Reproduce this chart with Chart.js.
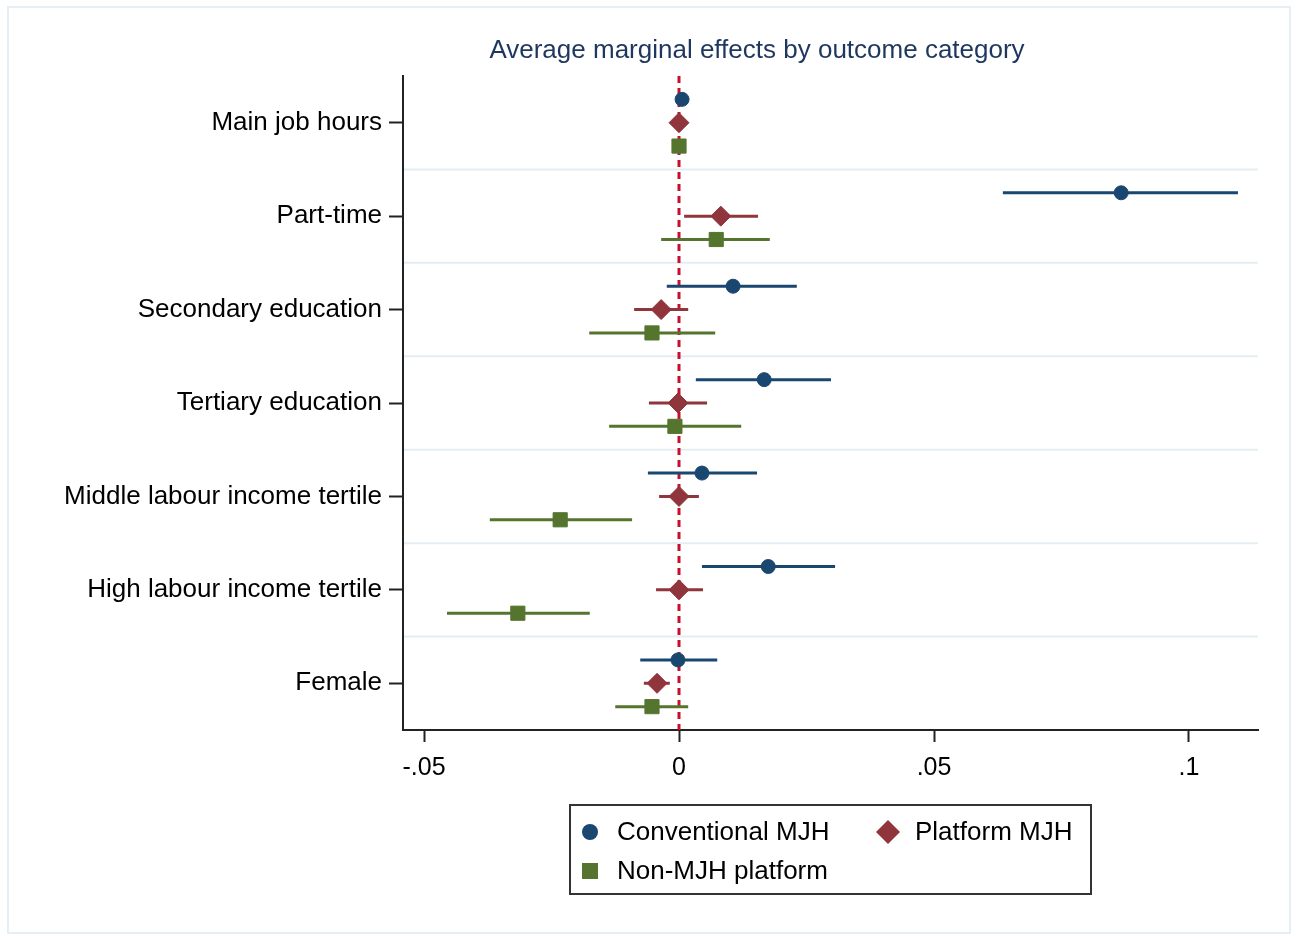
<!DOCTYPE html>
<html>
<head>
<meta charset="utf-8">
<script src="https://cdn.jsdelivr.net/npm/chart.js@4.4.1/dist/chart.umd.min.js"></script>
<style>
  body { margin: 0; background: #fff; font-family: 'Liberation Sans', Arial, sans-serif; }
  #wrap { position: relative; width: 1292px; height: 936px; }
  #frame { position: absolute; left: 7px; top: 6px; width: 1280px; height: 924px; border: 2px solid #e6eff3; pointer-events: none; }
  #title { position: absolute; left: 457px; top: 34px; width: 600px; text-align: center; font-size: 26px; line-height: 30px; color: #1e375f; white-space: nowrap; }
  #legend { position: absolute; left: 569px; top: 804px; width: 519px; height: 87px; border: 2px solid #333; background: #fff; }
  .item { position: absolute; display: flex; align-items: center; font-size: 26px; color: #000; white-space: nowrap; }
  .mk { width: 24px; height: 24px; margin-right: 15px; }
</style>
</head>
<body>
<div id="wrap">
  <canvas id="chart" width="1292" height="936"></canvas>
  <div id="frame"></div>
  <div id="title">Average marginal effects by outcome category</div>
  <div id="legend"></div>
</div>
<script>
// outcome categories, top to bottom
const categories = ['Main job hours', 'Part-time', 'Secondary education', 'Tertiary education',
  'Middle labour income tertile', 'High labour income tertile', 'Female'];

// x axis ticks
const xTicks = [-0.05, 0, 0.05, 0.1];
const xTickLabels = ['-.05', '0', '.05', '.1'];

// Conventional MJH: estimate, lower and upper 95% CI
const convEst = [0.0006, 0.0867, 0.0106, 0.0167, 0.0045, 0.0175, -0.0002];
const convLo = [0.0004, 0.0635, -0.0024, 0.0033, -0.0061, 0.0045, -0.0076];
const convHi = [0.0008, 0.1096, 0.0231, 0.0298, 0.0153, 0.0306, 0.0075];

// Platform MJH
const platEst = [0.0000, 0.0082, -0.0035, -0.0002, 0.0000, 0.0000, -0.0043];
const platLo = [-0.0002, 0.0010, -0.0088, -0.0059, -0.0039, -0.0045, -0.0069];
const platHi = [0.0002, 0.0155, 0.0018, 0.0055, 0.0039, 0.0047, -0.0018];

// Non-MJH platform
const nonEst = [0.0000, 0.0073, -0.0053, -0.0008, -0.0233, -0.0316, -0.0053];
const nonLo = [-0.0002, -0.0035, -0.0176, -0.0137, -0.0371, -0.0455, -0.0125];
const nonHi = [0.0002, 0.0178, 0.0071, 0.0122, -0.0092, -0.0175, 0.0018];

const series = [
  { name: 'Conventional MJH', est: convEst, lo: convLo, hi: convHi, color: '#1a476f', style: 'circle', radius: 7, shift: -0.25 },
  { name: 'Platform MJH', est: platEst, lo: platLo, hi: platHi, color: '#90353b', style: 'rectRot', radius: 10, shift: 0 },
  { name: 'Non-MJH platform', est: nonEst, lo: nonLo, hi: nonHi, color: '#55752f', style: 'rect', radius: 10, shift: 0.25 }
];

// build datasets: a CI line (with gaps) and a marker set per series
const datasets = [];
series.forEach(s => {
  const ci = [];
  s.est.forEach((v, i) => {
    ci.push({ x: s.lo[i], y: i + s.shift });
    ci.push({ x: s.hi[i], y: i + s.shift });
    ci.push({ x: null, y: null });
  });
  datasets.push({
    label: s.name + ' CI',
    data: ci,
    showLine: true,
    spanGaps: false,
    borderColor: s.color,
    borderWidth: 3,
    pointRadius: 0,
    order: 2
  });
  datasets.push({
    label: s.name,
    data: s.est.map((v, i) => ({ x: v, y: i + s.shift })),
    pointStyle: s.style,
    pointRadius: s.radius,
    pointBackgroundColor: s.color,
    pointBorderColor: s.color,
    pointBorderWidth: 1,
    order: 1
  });
});

// separators between categories and the dashed zero line
const refLines = {
  id: 'refLines',
  beforeDatasetsDraw(chart) {
    const { ctx, chartArea, scales } = chart;
    ctx.save();
    ctx.strokeStyle = '#e4edf1';
    ctx.lineWidth = 2;
    for (let i = 0; i < categories.length - 1; i++) {
      const y = scales.y.getPixelForValue(i + 0.5);
      ctx.beginPath();
      ctx.moveTo(chartArea.left + 1, y);
      ctx.lineTo(chartArea.right, y);
      ctx.stroke();
    }
    const x0 = scales.x.getPixelForValue(0);
    ctx.strokeStyle = '#c8102e';
    ctx.lineWidth = 3;
    ctx.setLineDash([7, 5]);
    ctx.beginPath();
    ctx.moveTo(x0, chartArea.top);
    ctx.lineTo(x0, chartArea.bottom);
    ctx.stroke();
    ctx.restore();
  }
};

const font = { family: "'Liberation Sans', Arial, sans-serif", size: 26 };

new Chart(document.getElementById('chart'), {
  type: 'scatter',
  data: { datasets: datasets },
  plugins: [refLines],
  options: {
    responsive: false,
    animation: false,
    layout: { padding: { top: 76, right: 34, bottom: 0, left: 0 } },
    plugins: { legend: { display: false }, title: { display: false }, tooltip: { enabled: false } },
    scales: {
      x: {
        type: 'linear',
        min: -0.05412,
        max: 0.11353,
        afterBuildTicks: scale => { scale.ticks = xTicks.map(v => ({ value: v })); },
        afterFit: scale => { scale.height = 206; },
        ticks: {
          color: '#000',
          font: { family: font.family, size: 25 },
          padding: 11,
          maxRotation: 0,
          callback: v => xTickLabels[xTicks.indexOf(v)]
        },
        grid: { drawOnChartArea: false, drawTicks: true, tickLength: 12, tickColor: '#222', tickWidth: 2 },
        border: { display: true, color: '#222', width: 2 }
      },
      y: {
        type: 'linear',
        reverse: true,
        min: -0.5,
        max: 6.5,
        afterBuildTicks: scale => { scale.ticks = categories.map((c, i) => ({ value: i })); },
        afterFit: scale => { scale.width = 403; },
        ticks: {
          color: '#000',
          font: font,
          padding: 7,
          autoSkip: false,
          callback: v => categories[v]
        },
        grid: { drawOnChartArea: false, drawTicks: true, tickLength: 14, tickColor: '#222', tickWidth: 2 },
        border: { display: true, color: '#222', width: 2 }
      }
    }
  }
});

// legend, two columns like the original
const legendPos = [
  { left: 7, top: 10 },
  { left: 305, top: 10 },
  { left: 7, top: 49 }
];
const legend = document.getElementById('legend');
series.forEach((s, i) => {
  let shape;
  if (s.style === 'circle') shape = `<circle cx="12" cy="12" r="8" fill="${s.color}"/>`;
  else if (s.style === 'rectRot') shape = `<polygon points="12,0 24,12 12,24 0,12" fill="${s.color}"/>`;
  else shape = `<rect x="4" y="4" width="16" height="16" fill="${s.color}"/>`;
  const el = document.createElement('div');
  el.className = 'item';
  el.style.left = legendPos[i].left + 'px';
  el.style.top = legendPos[i].top + 'px';
  el.innerHTML = `<svg class="mk" viewBox="0 0 24 24">${shape}</svg><span>${s.name}</span>`;
  legend.appendChild(el);
});
</script>
</body>
</html>
